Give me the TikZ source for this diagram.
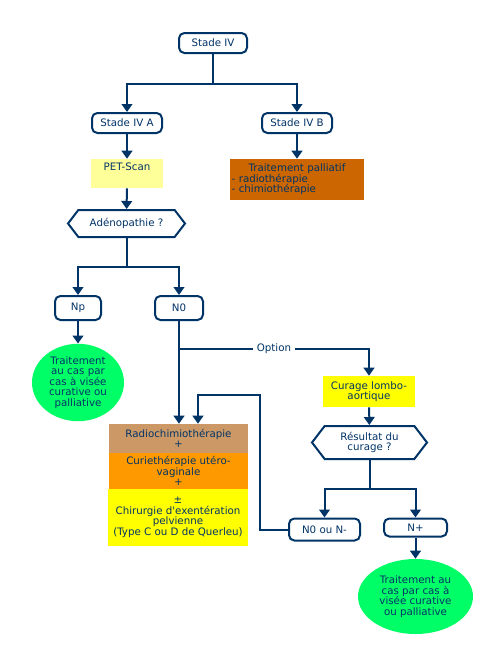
\documentclass[tikz,border=0pt]{standalone}
\usepackage{fontspec}
\setmainfont{DejaVu Sans}
\usetikzlibrary{arrows.meta,shapes.geometric,shapes.symbols}
\definecolor{navy}{RGB}{0,51,102}
\definecolor{paleyellow}{RGB}{255,255,153}
\definecolor{brightyellow}{RGB}{255,255,0}
\definecolor{rust}{RGB}{204,102,0}
\definecolor{tan}{RGB}{204,153,102}
\definecolor{amber}{RGB}{255,153,0}
\definecolor{flash}{RGB}{0,255,102}

\begin{document}
\begin{tikzpicture}[x=0.75pt, y=-0.75pt,
    font=\fontsize{7.7}{7.9}\selectfont, text=navy,
    every node/.style={align=center, inner sep=1pt},
    stage/.style={draw=navy, line width=1.5pt, rounded corners=4pt, fill=white},
    box/.style={fill=#1, minimum width=104.25pt},
    hexa/.style={draw=navy, line width=1.5pt, signal, signal to=west and east, signal pointer angle=105, fill=white},
    blob/.style={ellipse, fill=flash},
    arr/.style={draw=navy, line width=1.5pt, -{Triangle[width=8pt,length=6pt]}},
    lnk/.style={draw=navy, line width=1.5pt}]
    \useasboundingbox (0,0) rectangle (500,650);

    \node[stage, minimum width=51pt, minimum height=15pt] (s4) at (213,43) {Stade IV};
    \node[stage, minimum width=52.5pt, minimum height=15pt] (s4a) at (127,123) {Stade IV A};
    \node[stage, minimum width=52.5pt, minimum height=15pt] (s4b) at (297,123) {Stade IV B};
    \node[fill=paleyellow, minimum width=54pt, minimum height=21.75pt] (pet) at (127,173.5) {PET-Scan\\[3pt]};
    \node[fill=rust, text width=98pt, minimum height=30.75pt, align=left] (pall) at (297,179.5)
        {\makebox[98pt]{Traitement palliatif}\\- radiothérapie\\- chimiothérapie\\[5pt]};
    \node[hexa, minimum width=87.75pt, minimum height=20.25pt] (adeno) at (126.5,223.5) {Adénopathie ?};
    \node[stage, minimum width=34.5pt, minimum height=18pt] (np) at (78,308) {Np};
    \node[stage, minimum width=36pt, minimum height=18pt] (n0) at (179,308) {N0};
    \node[blob, minimum width=69pt, minimum height=56.25pt] (cas1) at (78,382.5)
        {Traitement\\au cas par\\cas à visée\\curative ou\\palliative};
    \node[fill=brightyellow, minimum width=69pt, minimum height=23.25pt] (curage) at (369,391.5) {Curage lombo-\\aortique};
    \node[hexa, minimum width=86.25pt, minimum height=24.75pt] (result) at (369.5,442.5) {Résultat du\\curage ?};
    \node[stage, minimum width=53.25pt, minimum height=16.5pt] (nneg) at (324.5,529.5) {N0 ou N-};
    \node[stage, minimum width=47.25pt, minimum height=13.5pt] (npos) at (415.5,527.5) {N+};
    \node[blob, minimum width=86.25pt, minimum height=56.25pt] (cas2) at (415.5,596.5)
        {Traitement au\\cas par cas à\\visée curative\\ou palliative};
    \node[box=tan, minimum height=21.75pt] (radio) at (178.5,438.5) {Radiochimiothérapie\\+};
    \node[box=amber, minimum height=27pt] (curie) at (178.5,471) {Curiethérapie utéro-\\vaginale\\+};
    \node[box=brightyellow, minimum width=105pt, minimum height=42.75pt] (chir) at (178,517.5)
        {±\\Chirurgie d\textquotesingle exentération\\pelvienne\\(Type C ou D de Querleu)};
    \coordinate (back) at (260,395);

    \draw[arr] (s4.south) -- ++(0,30) -| (s4a.north);
    \draw[arr] (s4.south) -- ++(0,30) -| (s4b.north);
    \draw[arr] (s4a) -- (pet);
    \draw[arr] (s4b) -- (pall);
    \draw[arr] (pet) -- (adeno);
    \draw[arr] (adeno.south) -- ++(0,29) -| (np.north);
    \draw[arr] (adeno.south) -- ++(0,29) -| (n0.north);
    \draw[arr] (np) -- (cas1);
    \draw[arr] (n0.south) -- (n0.south |- radio.north);
    \draw[arr] (n0.south) ++(0,28) -| (curage.north) node[pos=0.25, fill=white, inner xsep=3pt] {Option};
    \draw[arr] (curage) -- (result);
    \draw[arr] (result.south) -- ++(0,29) -| (nneg.north);
    \draw[arr] (result.south) -- ++(0,29) -| (npos.north);
    \draw[arr] (npos) -- (cas2);
    \draw[arr] (nneg.west) -| (back) -| ([xshift=14.6pt]radio.north);
\end{tikzpicture}
\end{document}
